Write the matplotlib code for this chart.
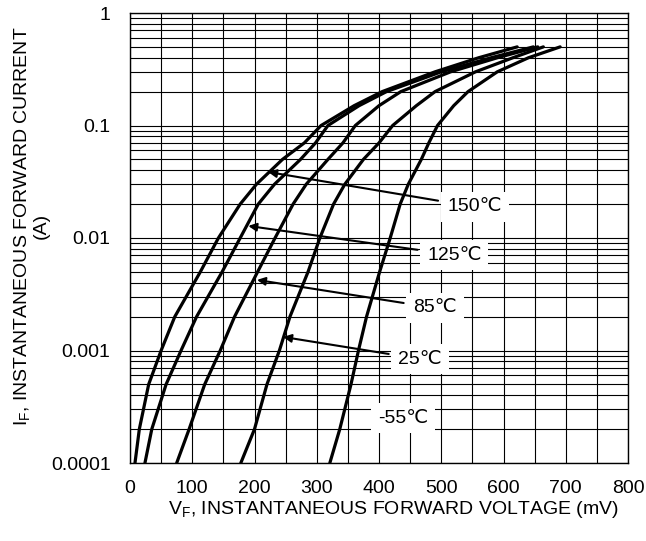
import matplotlib
matplotlib.use("Agg")
import matplotlib.pyplot as plt
from matplotlib.ticker import MultipleLocator, LogLocator, NullFormatter, FixedLocator

plt.rcParams['font.family'] = ['Liberation Sans', 'DejaVu Sans']
plt.rcParams['mathtext.default'] = 'regular'

# forward current levels (A) at which the voltages were read
current = [1e-4, 2e-4, 5e-4, 1e-3, 2e-3, 5e-3, 1e-2, 2e-2, 3e-2, 5e-2, 7e-2,
           0.1, 0.15, 0.2, 0.3, 0.4, 0.5]

# forward voltage (mV) for each temperature
vf_150 = [8, 15, 30, 50, 72, 113, 142, 177, 203, 245, 280, 307, 360, 405, 490, 560, 622]
vf_125 = [24, 35, 58, 82, 107, 148, 177, 206, 232, 274, 298, 318, 368, 412, 500, 580, 648]
vf_85 = [75, 95, 120, 145, 168, 205, 233, 262, 283, 318, 342, 362, 400, 435, 515, 590, 655]
vf_25 = [178, 200, 220, 240, 257, 286, 305, 327, 345, 375, 400, 422, 460, 490, 555, 615, 664]
vf_m55 = [321, 337, 355, 367, 380, 401, 418, 434, 447, 468, 480, 494, 520, 543, 590, 640, 691]

labels = ['150℃', '125℃', '85℃', '25℃', '-55℃']
# arrow tip (curve point) and label position, in data units
arrow_tip = [(222, 0.0386), (190, 0.0128), (204, 0.00424), (246, 0.00132), None]
label_pos = [(554, 0.0189), (521, 0.00706), (490, 0.00239), (466, 8.4e-4), (439, 2.51e-4)]

fig = plt.figure(figsize=(6.46, 5.41), dpi=100)
ax = fig.add_axes([130 / 646, 1 - 463 / 541, 498 / 646, 450 / 541])

for vf in [vf_150, vf_125, vf_85, vf_25, vf_m55]:
    ax.plot(vf, current, color='black', lw=2.3, solid_capstyle='round',
            solid_joinstyle='round', zorder=3)

for text, tip, pos in zip(labels, arrow_tip, label_pos):
    box = dict(boxstyle='square,pad=0.35', fc='white', ec='none')
    if tip is None:
        ax.text(pos[0], pos[1], text, fontsize=14, ha='center', va='center',
                bbox=box, zorder=4)
    else:
        ax.annotate(text, xy=tip, xytext=pos, fontsize=14, ha='center',
                    va='center', bbox=box, zorder=4,
                    arrowprops=dict(arrowstyle='-|>', color='black', lw=1.5,
                                    mutation_scale=12, shrinkA=2, shrinkB=0))

ax.set_xlim(0, 800)
ax.set_yscale('log')
ax.set_ylim(1e-4, 1)
ax.xaxis.set_major_locator(MultipleLocator(100))
ax.xaxis.set_minor_locator(MultipleLocator(50))
ax.yaxis.set_major_locator(FixedLocator([1e-4, 1e-3, 1e-2, 1e-1, 1]))
ax.yaxis.set_minor_locator(LogLocator(base=10, subs=range(2, 10)))
ax.yaxis.set_minor_formatter(NullFormatter())
ax.set_yticklabels(['0.0001', '0.001', '0.01', '0.1', '1'])

ax.grid(True, which='both', color='black', lw=0.8, zorder=1)
ax.set_axisbelow(True)
ax.tick_params(which='both', length=0, labelsize=14)
ax.tick_params(axis='y', pad=14)
ax.tick_params(axis='x', pad=12)
for s in ax.spines.values():
    s.set_linewidth(1.0)

fig.text(393 / 646, 1 - 510 / 541, 'V$_F$, INSTANTANEOUS FORWARD VOLTAGE (mV)',
         fontsize=14, ha='center', va='center')
fig.text(31 / 646, 1 - 226 / 541, 'I$_F$, INSTANTANEOUS FORWARD CURRENT\n(A)',
         fontsize=14, ha='center', va='center', rotation=90,
         multialignment='center', linespacing=1.0)

fig.savefig('out.png', dpi=100)
